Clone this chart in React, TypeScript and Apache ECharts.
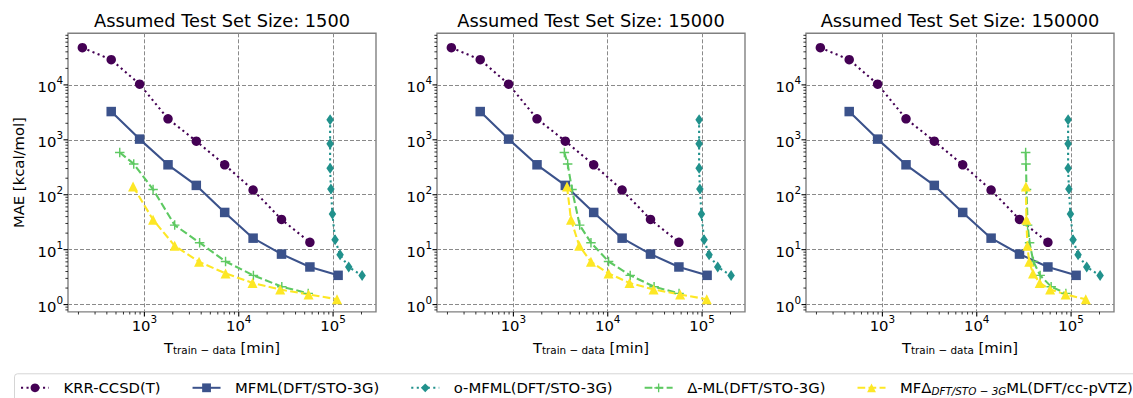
import React, { useEffect, useRef } from 'react';
import * as echarts from 'echarts';

const FONT = 'DejaVu Sans';

// ---------- data ----------
const TEST_SET_SIZES = [1500, 15000, 150000];
const PANEL_TITLES = TEST_SET_SIZES.map((s) => `Assumed Test Set Size: ${s}`);

const NAME_KRR = 'KRR-CCSD(T)';
const NAME_MFML = 'MFML(DFT/STO-3G)';
const NAME_OMFML = 'o-MFML(DFT/STO-3G)';
const NAME_DELTA = 'Δ-ML(DFT/STO-3G)';
const NAME_MFD = 'MFΔ_DFT/STO−3G ML(DFT/cc-pVTZ)';

// same in every panel
const krrX = [220, 445, 890, 1780, 3550, 7100, 14200, 28400, 56800];
const krrY = [47600, 28800, 10300, 2410, 946, 351, 122, 35.5, 13.6];
const mfmlX = [445, 890, 1780, 3550, 7100, 14200, 28400, 56800, 113000];
const mfmlY = [3270, 1030, 351, 148, 47.6, 16.2, 8.3, 4.84, 3.41];
const omfmlX = [93000, 93000, 93000, 94800, 98400, 105000, 118600, 146500, 203000];
const omfmlY = [2310, 845, 305, 127, 44.5, 15.2, 8.1, 4.84, 3.37];

// depend on assumed test set size
const deltaY = [589, 364, 125, 28, 13.4, 6.1, 3.4, 2.12, 1.6];
const deltaX1500 = [548, 771, 1236, 2095, 3850, 7250, 14300, 28600, 54500];
const deltaX15000 = [3470, 3760, 4180, 5040, 6640, 10200, 17300, 31000, 57000];
const deltaX150000 = [33000, 33250, 33700, 34600, 36300, 39800, 47000, 61500, 88000];

const mfdY = [142, 35, 11.8, 6.0, 3.7, 2.48, 1.88, 1.53, 1.25];
const mfdX1500 = [758, 1236, 2095, 3800, 7250, 14000, 27500, 55000, 110000];
const mfdX15000 = [3700, 4080, 4990, 6640, 10200, 17000, 30600, 58500, 112000];
const mfdX150000 = [33200, 33600, 34400, 36000, 39500, 46500, 60000, 87500, 143000];

const deltaXByPanel = [deltaX1500, deltaX15000, deltaX150000];
const mfdXByPanel = [mfdX1500, mfdX15000, mfdX150000];

// axis ranges and ticks
const X_MIN = 155;
const X_MAX = 285000;
const Y_MIN = 0.736;
const Y_MAX = 87000;
const X_MAJOR = [1000, 10000, 100000];
const X_MINOR = [
  200, 300, 400, 500, 600, 700, 800, 900,
  2000, 3000, 4000, 5000, 6000, 7000, 8000, 9000,
  20000, 30000, 40000, 50000, 60000, 70000, 80000, 90000,
  200000,
];
const Y_MAJOR = [1, 10, 100, 1000, 10000];
const Y_MINOR = [
  0.8, 0.9,
  2, 3, 4, 5, 6, 7, 8, 9,
  20, 30, 40, 50, 60, 70, 80, 90,
  200, 300, 400, 500, 600, 700, 800, 900,
  2000, 3000, 4000, 5000, 6000, 7000, 8000, 9000,
  20000, 30000, 40000, 50000, 60000, 70000, 80000,
];

// ---------- layout / style ----------
const GRID_LEFTS = [68, 437, 806];
const GRID_W = 308;
const GRID_TOP = 33.3;
const GRID_H = 278.6;

const FS = 14.8; // tick / label / legend font
const FS_SMALL = 10.4; // super / subscripts
const FS_TITLE = 17.8;

const C_KRR = '#440154';
const C_MFML = '#3b528b';
const C_OMFML = '#21918c';
const C_DELTA = '#5ec962';
const C_MFD = '#fde725';

const LW = 2.1;
const DOTTED = [2.1, 3.4];
const DASHED = [7.7, 3.3];
const PLUS = 'path://M4.25,0H5.75V4.25H10V5.75H5.75V10H4.25V5.75H0V4.25H4.25Z';

const zip = (xs: number[], ys: number[]) => xs.map((x, i) => [x, ys[i]]);

const powLabel = (v: number) => `{b|10}{s|${Math.round(Math.log10(v))}}`;
const powRich = {
  b: { fontSize: FS, fontFamily: FONT, color: '#000', lineHeight: 19, verticalAlign: 'bottom' },
  s: { fontSize: FS_SMALL, fontFamily: FONT, color: '#000', verticalAlign: 'top' },
};

function buildOption() {
  const grids: any[] = [];
  const xAxes: any[] = [];
  const yAxes: any[] = [];
  const series: any[] = [];
  const titles: any[] = [];

  const tickData = [
    ...X_MAJOR.map((v) => [v, Y_MIN, 0]),
    ...X_MINOR.map((v) => [v, Y_MIN, 1]),
    ...Y_MAJOR.map((v) => [X_MIN, v, 2]),
    ...Y_MINOR.map((v) => [X_MIN, v, 3]),
  ];

  for (let i = 0; i < 3; i++) {
    grids.push({
      left: GRID_LEFTS[i],
      top: GRID_TOP,
      width: GRID_W,
      height: GRID_H,
      show: true,
      borderColor: '#808080',
      borderWidth: 1.4,
      backgroundColor: 'transparent',
      containLabel: false,
    });
    titles.push({
      text: PANEL_TITLES[i],
      left: GRID_LEFTS[i] + GRID_W / 2,
      top: 11,
      textAlign: 'center',
      padding: 0,
      textStyle: { fontFamily: FONT, fontSize: FS_TITLE, fontWeight: 'normal', color: '#000' },
    });
    xAxes.push({
      gridIndex: i,
      type: 'log',
      logBase: 10,
      min: X_MIN,
      max: X_MAX,
      axisLine: { show: false },
      axisTick: { show: false },
      minorTick: { show: false },
      splitLine: {
        show: true,
        showMinLine: false,
        showMaxLine: false,
        lineStyle: { color: '#8a8a8a', type: [4, 2], width: 1 },
      },
      axisLabel: {
        formatter: powLabel,
        rich: powRich,
        margin: 2,
        showMinLabel: false,
        showMaxLabel: false,
      },
      name: '{b|T}{s|train − data}{b| [min]}',
      nameLocation: 'middle',
      nameGap: 28,
      nameTextStyle: {
        rich: {
          b: { fontSize: FS, fontFamily: FONT, color: '#000', lineHeight: 15.6, verticalAlign: 'top' },
          s: { fontSize: FS_SMALL, fontFamily: FONT, color: '#000', verticalAlign: 'bottom' },
        },
      },
    });
    yAxes.push({
      gridIndex: i,
      type: 'log',
      logBase: 10,
      min: Y_MIN,
      max: Y_MAX,
      axisLine: { show: false },
      axisTick: { show: false },
      minorTick: { show: false },
      splitLine: {
        show: true,
        showMinLine: false,
        showMaxLine: false,
        lineStyle: { color: '#8a8a8a', type: [4, 2], width: 1 },
      },
      axisLabel: {
        formatter: powLabel,
        rich: powRich,
        margin: 5,
        showMinLabel: false,
        showMaxLabel: false,
      },
      name: i === 0 ? 'MAE [kcal/mol]' : '',
      nameLocation: 'middle',
      nameGap: 42,
      nameRotate: 90,
      nameTextStyle: { fontSize: FS, fontFamily: FONT, color: '#000' },
    });

    const common = { xAxisIndex: i, yAxisIndex: i, type: 'line', showSymbol: true, z: 3 };
    series.push({
      ...common,
      name: NAME_KRR,
      data: zip(krrX, krrY),
      color: C_KRR,
      symbol: 'circle',
      symbolSize: 9.5,
      lineStyle: { color: C_KRR, width: LW, type: DOTTED },
      itemStyle: { color: C_KRR },
    });
    series.push({
      ...common,
      name: NAME_MFML,
      data: zip(mfmlX, mfmlY),
      color: C_MFML,
      symbol: 'rect',
      symbolSize: 9.5,
      lineStyle: { color: C_MFML, width: LW, type: 'solid' },
      itemStyle: { color: C_MFML },
    });
    series.push({
      ...common,
      name: NAME_OMFML,
      data: zip(omfmlX, omfmlY),
      color: C_OMFML,
      symbol: 'diamond',
      symbolSize: [7.5, 11],
      lineStyle: { color: C_OMFML, width: LW, type: DOTTED },
      itemStyle: { color: C_OMFML },
    });
    series.push({
      ...common,
      name: NAME_DELTA,
      data: zip(deltaXByPanel[i], deltaY),
      color: C_DELTA,
      symbol: PLUS,
      symbolSize: 9.5,
      lineStyle: { color: C_DELTA, width: LW, type: DASHED },
      itemStyle: { color: C_DELTA },
    });
    series.push({
      ...common,
      name: NAME_MFD,
      data: zip(mfdXByPanel[i], mfdY),
      color: C_MFD,
      symbol: 'triangle',
      symbolSize: 10,
      lineStyle: { color: C_MFD, width: LW, type: DASHED },
      itemStyle: { color: C_MFD },
    });
    series.push({
      type: 'custom',
      name: 'ticks',
      coordinateSystem: 'cartesian2d',
      xAxisIndex: i,
      yAxisIndex: i,
      silent: true,
      clip: false,
      z: 6,
      encode: { x: 0, y: 1 },
      data: tickData,
      renderItem: (_params: any, api: any) => {
        const kind = api.value(2);
        const p = api.coord([api.value(0), api.value(1)]);
        const major = kind === 0 || kind === 2;
        const len = major ? 4.5 : 2.6;
        const shape =
          kind < 2
            ? { x1: p[0], y1: p[1], x2: p[0], y2: p[1] + len }
            : { x1: p[0] - len, y1: p[1], x2: p[0], y2: p[1] };
        return { type: 'line', shape, style: { stroke: '#000', lineWidth: major ? 1.1 : 0.8 } };
      },
    });
  }

  return {
    animation: false,
    backgroundColor: '#ffffff',
    textStyle: { fontFamily: FONT },
    title: titles,
    grid: grids,
    xAxis: xAxes,
    yAxis: yAxes,
    legend: {
      data: [NAME_KRR, NAME_MFML, NAME_OMFML, NAME_DELTA, NAME_MFD],
      left: 14.5,
      top: 373.8,
      width: 1400,
      orient: 'horizontal',
      itemWidth: 28,
      itemHeight: 11,
      itemGap: 31,
      padding: [5.5, 30, 10, 5.5],
      borderColor: '#d5d5d5',
      borderWidth: 1,
      borderRadius: 3,
      backgroundColor: '#ffffff',
      selectedMode: false,
      formatter: (name: string) =>
        name === NAME_MFD ? 'MFΔ{sub|DFT/STO − 3G}ML(DFT/cc-pVTZ)' : name,
      textStyle: {
        fontFamily: FONT,
        fontSize: FS,
        color: '#000',
        lineHeight: 17,
        padding: [0, 0, 0, 9.5],
        rich: {
          sub: { fontFamily: FONT, fontSize: FS_SMALL, fontStyle: 'italic', color: '#000', verticalAlign: 'bottom' },
        },
      },
    },
    series,
  };
}

export default function App() {
  const ref = useRef<HTMLDivElement>(null);
  useEffect(() => {
    if (!ref.current) return;
    const chart = echarts.init(ref.current, undefined, { renderer: 'svg' });
    chart.setOption(buildOption() as any);
    return () => chart.dispose();
  }, []);
  return (
    <div
      ref={ref}
      style={{ position: 'fixed', left: 0, top: 0, width: 1133, height: 398, background: '#fff' }}
    />
  );
}
